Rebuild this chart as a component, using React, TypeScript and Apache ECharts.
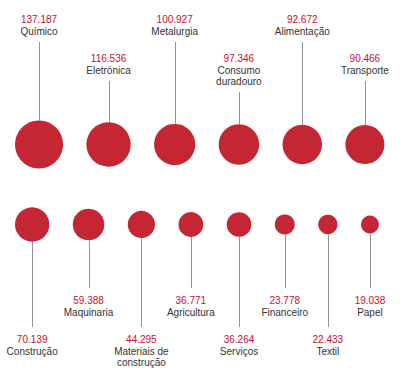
import React, { useEffect, useRef } from "react";
import * as echarts from "echarts";

// Top row
const topNames = ["Químico", "Eletrónica", "Metalurgia", "Consumo\nduradouro", "Alimentação", "Transporte"];
const topValues = [137.187, 116.536, 100.927, 97.346, 92.672, 90.466];
const topLabels = ["137.187", "116.536", "100.927", "97.346", "92.672", "90.466"];

// Bottom row
const bottomNames = ["Construção", "Maquinaria", "Materiais de\nconstrução", "Agricultura", "Serviços", "Financeiro", "Textil", "Papel"];
const bottomValues = [70.139, 59.388, 44.295, 36.771, 36.264, 23.778, 22.433, 19.038];
const bottomLabels = ["70.139", "59.388", "44.295", "36.771", "36.264", "23.778", "22.433", "19.038"];

const K = 2.05; // radius per sqrt(value), in axis units
const GAP = 23.4;
const START = 15;
const TOP_Y = 144.5;
const BOTTOM_Y = 224.5;

function pack(values: number[]) {
  const xs: number[] = [];
  let edge = START;
  values.forEach((v) => {
    const r = K * Math.sqrt(v);
    xs.push(edge + r);
    edge += 2 * r + GAP;
  });
  return xs;
}

export default function App() {
  const ref = useRef<HTMLDivElement>(null);
  useEffect(() => {
    if (!ref.current) return;
    const chart = echarts.init(ref.current, undefined, { renderer: "svg" });
    const topX = pack(topValues);
    const botX = pack(bottomValues);
    const data: any[] = [];
    topValues.forEach((v, i) => data.push([topX[i], TOP_Y, v, 0, i]));
    bottomValues.forEach((v, i) => data.push([botX[i], BOTTOM_Y, v, 1, i]));
    const FONT = "Liberation Sans, Arial, sans-serif";
    const RED = "#C8102E";
    const renderItem = (params: any, api: any) => {
      const x = api.value(0);
      const y = api.value(1);
      const v = api.value(2);
      const row = api.value(3);
      const idx = api.value(4);
      const p = api.coord([x, y]);
      const r = api.size([K * Math.sqrt(v), 0])[0];
      const name = row === 0 ? topNames[idx] : bottomNames[idx];
      const label = row === 0 ? topLabels[idx] : bottomLabels[idx];
      const lines = name.split("\n").length;
      const lx = Math.round(p[0]) + 0.5;
      let valueY: number;
      let y1: number;
      let y2: number;
      if (row === 0) {
        valueY = p[1] + (idx % 2 === 0 ? -125.5 : -86.5);
        y1 = valueY + 12 + (lines - 1) * 11 + 11;
        y2 = p[1] - r;
      } else {
        valueY = p[1] + (idx % 2 === 0 ? 114.5 : 75.5);
        y1 = p[1] + r;
        y2 = valueY - 12;
      }
      return {
        type: "group",
        children: [
          {
            type: "line",
            shape: { x1: lx, y1, x2: lx, y2 },
            style: { stroke: "#939393", lineWidth: 1 },
          },
          {
            type: "circle",
            shape: { cx: p[0], cy: p[1], r },
            style: { fill: "#C42733" },
          },
          {
            type: "text",
            style: {
              text: label,
              x: p[0],
              y: valueY,
              align: "center",
              verticalAlign: "middle",
              fill: RED,
              fontSize: 10,
              fontFamily: FONT,
            },
          },
          {
            type: "text",
            style: {
              text: name,
              x: p[0],
              y: valueY + 12 - 5.5,
              align: "center",
              verticalAlign: "top",
              lineHeight: 11,
              fill: "#333333",
              fontSize: 10,
              fontFamily: FONT,
            },
          },
        ],
      };
    };
    chart.setOption({
      animation: false,
      grid: { left: 0, right: 0, top: 0, bottom: 0 },
      xAxis: { type: "value", min: 0, max: 400, show: false },
      yAxis: { type: "value", min: 0, max: 370, inverse: true, show: false },
      series: [
        {
          type: "custom",
          renderItem,
          data,
          clip: false,
        },
      ],
    });
    return () => chart.dispose();
  }, []);
  return (
    <div
      ref={ref}
      style={{ position: "absolute", left: 0, top: 0, width: 400, height: 370, background: "#fff" }}
    />
  );
}
